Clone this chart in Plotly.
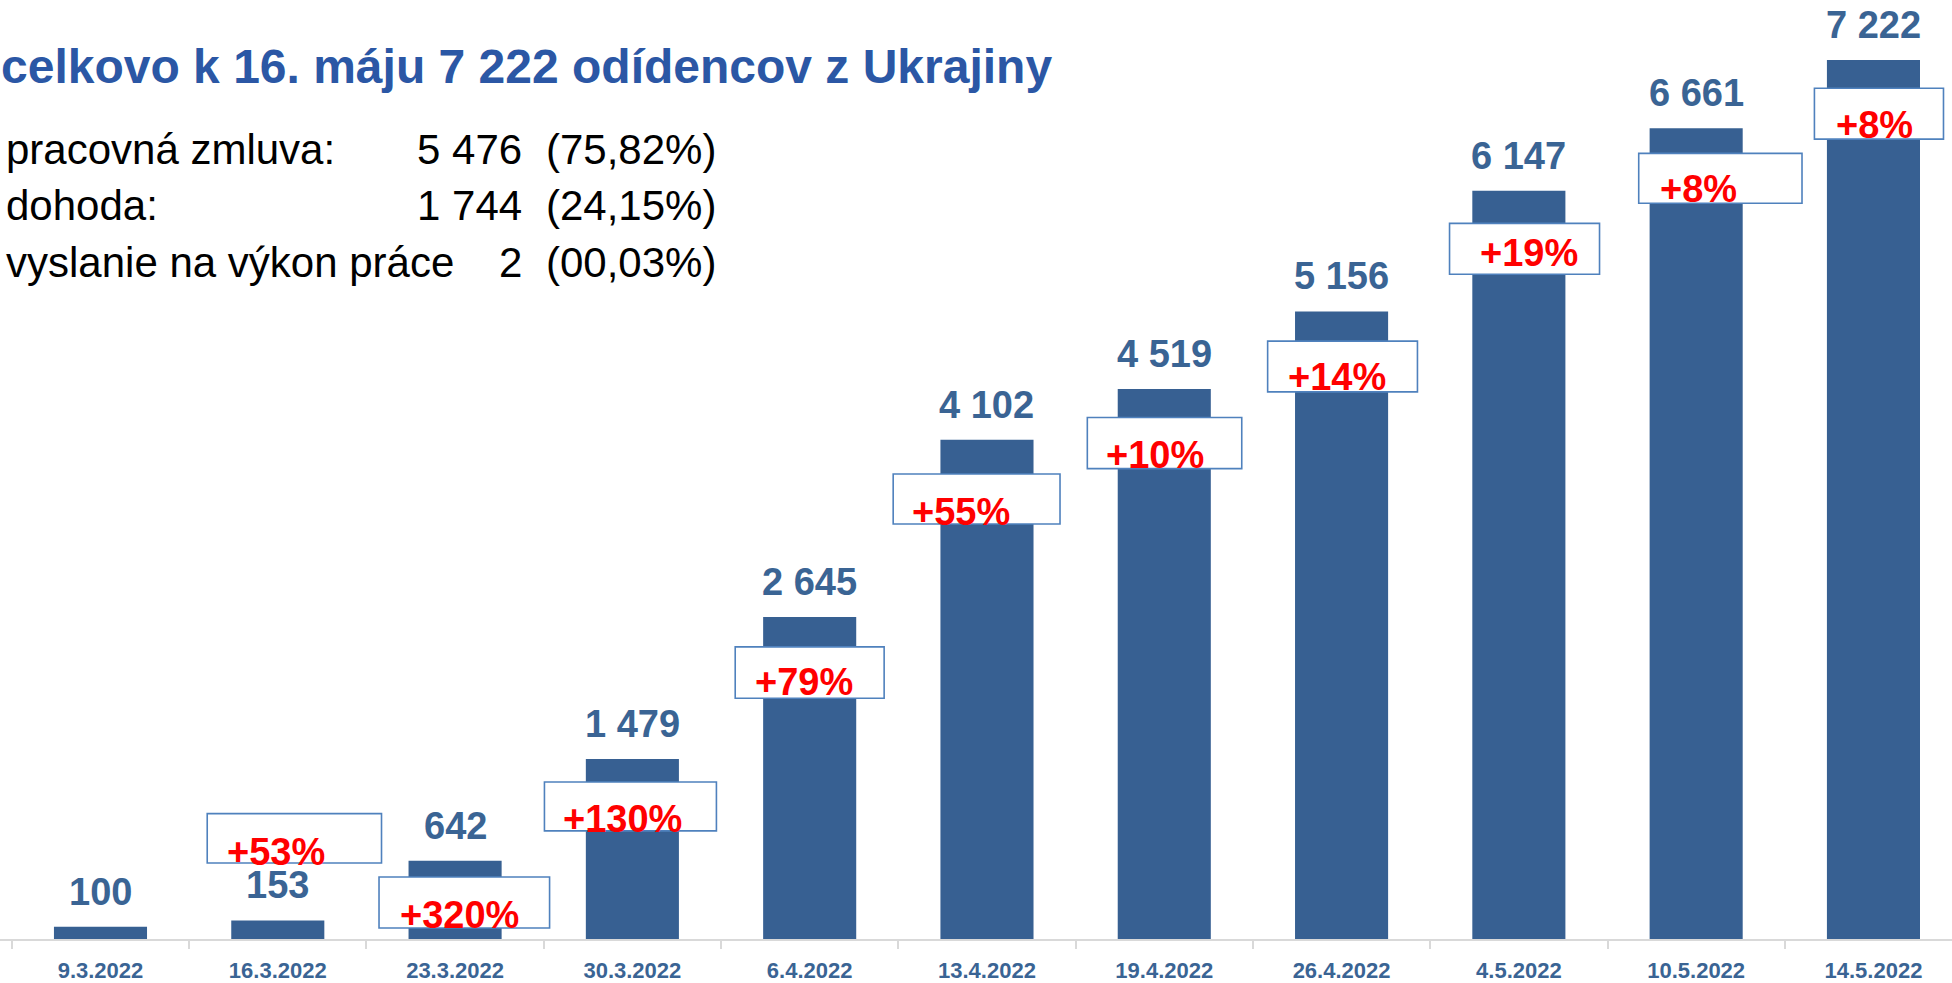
import plotly.graph_objects as go

# ---------------- data ----------------
dates = ["9.3.2022", "16.3.2022", "23.3.2022", "30.3.2022", "6.4.2022", "13.4.2022",
         "19.4.2022", "26.4.2022", "4.5.2022", "10.5.2022", "14.5.2022"]
values = [100, 153, 642, 1479, 2645, 4102, 4519, 5156, 6147, 6661, 7222]
value_labels = ["100", "153", "642", "1 479", "2 645", "4 102", "4 519", "5 156", "6 147", "6 661", "7 222"]
growth_labels = ["+53%", "+320%", "+130%", "+79%", "+55%", "+10%", "+14%", "+19%", "+8%", "+8%"]

title_text = "celkovo k 16. máju 7 222 odídencov z Ukrajiny"
breakdown_names = ["pracovná zmluva:", "dohoda:", "vyslanie na výkon práce"]
breakdown_counts = ["5 476", "1 744", "2"]
breakdown_shares = ["(75,82%)", "(24,15%)", "(00,03%)"]

# ---------------- layout / positions (not data) ----------------
# growth boxes: category index, left offset, right offset, top (y units), bottom (y units)
box_pos = [
    (1, -0.398, 0.585, 1030, 625),
    (2, -0.429, 0.533, 510, 90),
    (3, -0.496, 0.474, 1290, 888),
    (4, -0.420, 0.420, 2400, 1978),
    (5, -0.529, 0.412, 3820, 3410),
    (6, -0.434, 0.437, 4285, 3865),
    (7, -0.417, 0.428, 4912, 4495),
    (8, -0.391, 0.455, 5880, 5462),
    (9, -0.324, 0.597, 6455, 6045),
    (10, -0.333, 0.395, 6990, 6572),
]
# growth text: left offset from category centre, baseline (y units)
text_pos = [(-0.300, 625), (-0.322, 110), (-0.400, 895), (-0.318, 2025), (-0.436, 3420),
            (-0.338, 3890), (-0.315, 4525), (-0.232, 5545), (-0.214, 6070), (-0.224, 6600)]

W, H = 1952, 983
PLOT_H = 942
BAR_BLUE = "#376092"
LABEL_BLUE = "#3A6494"
TITLE_BLUE = "#2B57A5"
BOX_BLUE = "#4F81BD"
FONT = "Liberation Sans, Arial, sans-serif"

fig = go.Figure()
fig.add_trace(go.Bar(
    x=dates, y=values, marker=dict(color=BAR_BLUE, line=dict(width=0)),
    width=0.525, hoverinfo="skip", showlegend=False,
))

annotations = []
# value labels above bars
for d, v, lbl in zip(dates, values, value_labels):
    annotations.append(dict(
        x=d, y=v, xref="x", yref="y", text=lbl, showarrow=False,
        xanchor="center", yanchor="bottom", yshift=12,
        font=dict(family=FONT, size=38, color=LABEL_BLUE, weight="bold"),
    ))

shapes = []
for (i, o0, o1, top, bot) in box_pos:
    shapes.append(dict(
        type="rect", xref="x", yref="y", x0=i + o0, x1=i + o1, y0=bot, y1=top,
        fillcolor="white", line=dict(color=BOX_BLUE, width=1.6), layer="above",
    ))

for k, (lbl, (off, base)) in enumerate(zip(growth_labels, text_pos)):
    i = k + 1
    annotations.append(dict(
        x=i + off, y=base, xref="x", yref="y", text=lbl, showarrow=False,
        xanchor="left", yanchor="bottom", yshift=-12,
        font=dict(family=FONT, size=38, color="#FF0000", weight="bold"),
    ))

def py(p):
    return (PLOT_H - p) / PLOT_H

# title
annotations.append(dict(
    x=-1 / W, y=py(83), xref="paper", yref="paper", text=title_text, showarrow=False,
    xanchor="left", yanchor="bottom", yshift=-12,
    font=dict(family=FONT, size=48, color=TITLE_BLUE, weight="bold"),
))

baselines = [165, 221, 278]
for name, cnt, share, b in zip(breakdown_names, breakdown_counts, breakdown_shares, baselines):
    common = dict(xref="paper", yref="paper", showarrow=False, yanchor="bottom", yshift=-11,
                  font=dict(family=FONT, size=42, color="black"))
    annotations.append(dict(x=4 / W, y=py(b), text=name, xanchor="left", **common))
    annotations.append(dict(x=524 / W, y=py(b), text=cnt, xanchor="right", **common))
    annotations.append(dict(x=544 / W, y=py(b), text=share, xanchor="left", **common))

fig.update_layout(
    width=W, height=H,
    margin=dict(l=0, r=0, t=0, b=H - PLOT_H, pad=0),
    paper_bgcolor="white", plot_bgcolor="white",
    bargap=0.47,
    xaxis=dict(
        type="category", range=[-0.5668, 10.443],
        showline=True, linecolor="#D9D9D9", linewidth=2,
        ticks="outside", tickson="boundaries", ticklen=8, tickwidth=2, tickcolor="#D9D9D9",
        tickfont=dict(family=FONT, size=22, color=LABEL_BLUE, weight="bold"),
        showgrid=False, zeroline=False, fixedrange=True,
        ticklabelstandoff=11,
    ),
    yaxis=dict(range=[0, 7715], visible=False, showgrid=False, zeroline=False, fixedrange=True),
    annotations=annotations,
    shapes=shapes,
)

fig.write_html(
    "out.html",
    config={"displayModeBar": False, "staticPlot": False},
    post_script="document.body.style.margin='0';document.body.style.overflow='hidden';",
)
